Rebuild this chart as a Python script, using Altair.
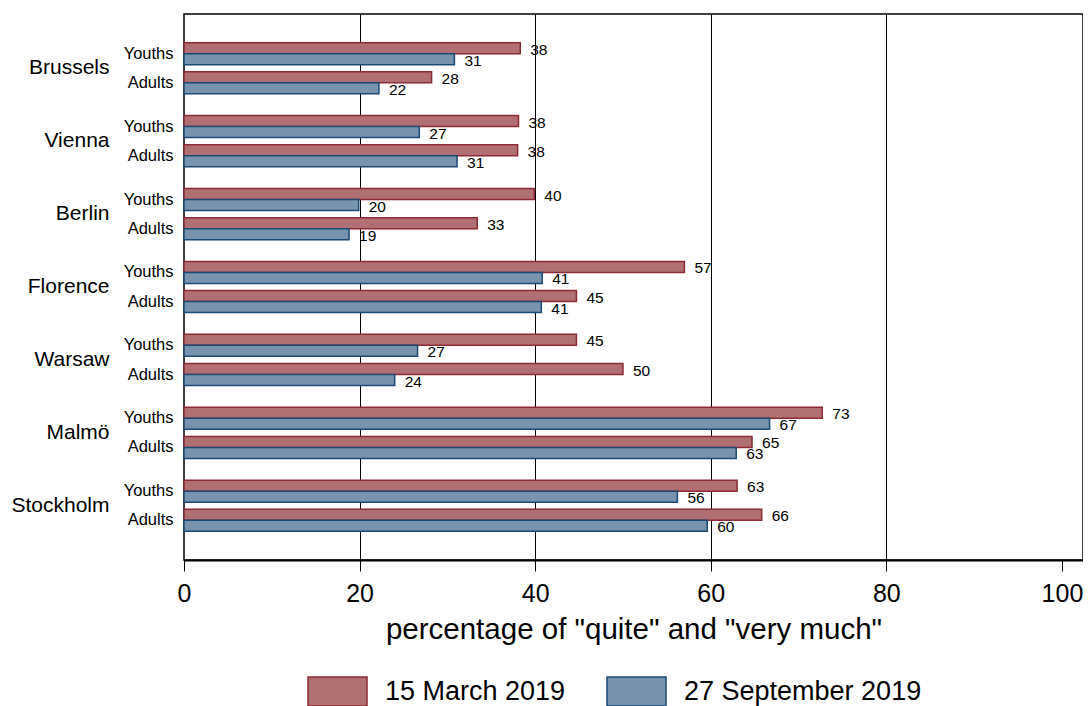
import altair as alt
import pandas as pd

cities = ["Brussels", "Vienna", "Berlin", "Florence", "Warsaw", "Malmö", "Stockholm"]
groups = ["Youths", "Adults"]
series = ["15 March 2019", "27 September 2019"]

# values per city: [Youths, Adults]
march = [[38.3, 28.2], [38.1, 38.0], [39.9, 33.4], [57.0, 44.7], [44.7, 50.0], [72.7, 64.7], [63.0, 65.8]]
september = [[30.8, 22.2], [26.8, 31.1], [19.9, 18.8], [40.8, 40.7], [26.6, 24.0], [66.7, 62.9], [56.2, 59.6]]

x_ticks = [0, 20, 40, 60, 80, 100]

FONT = "Liberation Sans"
RED_FILL, RED_STROKE = "#b07073", "#8e2a35"
BLUE_FILL, BLUE_STROKE = "#7793ad", "#1c4a74"

rows = []
for ci, city in enumerate(cities):
    for gi, g in enumerate(groups):
        rows.append({"row": f"{city}#{g}", "city": city, "series": series[0], "value": march[ci][gi]})
        rows.append({"row": f"{city}#{g}", "city": city, "series": series[1], "value": september[ci][gi]})
df = pd.DataFrame(rows)

# band slots: two spacer slots before each city, then Youths / city-centre / Adults
slots = []
for city in cities:
    slots += [f"{city}#s1", f"{city}#s2", f"{city}#Youths", f"{city}#C", f"{city}#Adults"]
slots += ["end#s1", "end#s2"]

yscale = alt.Scale(domain=slots, paddingInner=0, paddingOuter=0.22)
xscale = alt.Scale(domain=[0, 102.4], nice=False, zero=True)
yoff = alt.YOffset("series:N", scale=alt.Scale(domain=series, range=[-3.7, 18.3], paddingInner=0, paddingOuter=0))

legend = alt.Legend(title=None, orient="none", legendX=123, legendY=647, direction="horizontal",
                    symbolType="M-1,-0.49L1,-0.49L1,0.49L-1,0.49Z", symbolSize=3481,
                    symbolStrokeWidth=1.5, labelFontSize=27, labelFont=FONT, labelLimit=500,
                    labelColor="black", labelOffset=17, columnPadding=38, padding=0)

bars = alt.Chart(df).mark_bar(strokeWidth=1.5).encode(
    x=alt.X("value:Q", scale=xscale,
            axis=alt.Axis(values=x_ticks, title='percentage of "quite" and "very much"',
                          grid=True, gridColor="black", gridWidth=1,
                          gridOpacity={"condition": {"test": "datum.value <= 0 || datum.value >= 100", "value": 0}, "value": 1},
                          domainColor="black", domainWidth=2, tickColor="black", tickSize=11, tickWidth=1,
                          labelFlush=False,
                          labelFontSize=25, labelFont=FONT, labelColor="black", labelPadding=10,
                          titleFontSize=29.5, titleFont=FONT, titleFontWeight="normal", titleColor="black",
                          titlePadding=9)),
    y=alt.Y("row:N", scale=yscale,
            axis=alt.Axis(orient="left", title=None, domain=False, ticks=False, grid=False,
                          labelExpr="indexof(datum.value, '#Youths') >= 0 ? 'Youths' : (indexof(datum.value, '#Adults') >= 0 ? 'Adults' : '')",
                          labelFontSize=16.5, labelFont=FONT, labelColor="black", labelPadding=11)),
    yOffset=yoff,
    fill=alt.Fill("series:N", scale=alt.Scale(domain=series, range=[RED_FILL, BLUE_FILL]), legend=legend),
    stroke=alt.Stroke("series:N", scale=alt.Scale(domain=series, range=[RED_STROKE, BLUE_STROKE]), legend=legend),
)

labels = alt.Chart(df).mark_text(align="left", baseline="middle", dx=10, dy=1.5,
                                 fontSize=15.5, font=FONT, color="black").encode(
    x=alt.X("value:Q", scale=xscale),
    y=alt.Y("row:N", scale=yscale,
            axis=alt.Axis(orient="left", title=None, domain=False, ticks=False, grid=False,
                          labelExpr="indexof(datum.value, '#C') >= 0 ? split(datum.value, '#')[0] : ''",
                          labelFontSize=21, labelFont=FONT, labelColor="black", labelPadding=75)),
    yOffset=yoff,
    text=alt.Text("value:Q", format=".0f"),
)

chart = alt.layer(bars, labels).resolve_axis(y="independent").properties(
    width=899, height=546,
    padding={"left": 2, "top": 4, "right": 0, "bottom": 0},
).configure_view(stroke="black", strokeWidth=1.5)

chart.save("out.html", embed_options={"renderer": "svg", "actions": False})
